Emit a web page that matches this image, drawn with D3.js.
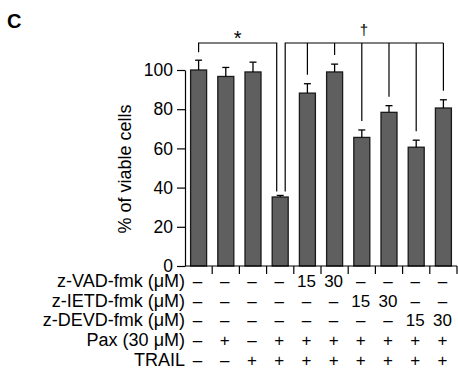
<!DOCTYPE html>
<html>
<head>
<meta charset="utf-8">
<script src="https://cdn.jsdelivr.net/npm/d3@7"></script>
<style>
  body { margin: 0; background: #fff; }
  svg { font-family: "Liberation Sans", Arial, sans-serif; }
  .axis path, .axis line { stroke: #000; stroke-width: 1.2; }
  .axis text { font-size: 17.5px; fill: #000; }
  .bar { fill: #5f5f5f; stroke: #1a1a1a; stroke-width: 1.3; }
  .err { stroke: #000; stroke-width: 1.3; fill: none; }
  .bracket { stroke: #000; stroke-width: 1.2; fill: none; }
  .row-label { font-size: 18px; fill: #000; }
  .row-val { font-size: 17px; fill: #000; }
</style>
</head>
<body>
<div id="chart"></div>
<script>
// --- data ---
const groups = ['g1', 'g2', 'g3', 'g4', 'g5', 'g6', 'g7', 'g8', 'g9', 'g10'];
const viable = [100, 96.7, 99, 35.2, 88.2, 99, 65.6, 78.4, 60.6, 80.6];
const sem = [5, 4.6, 5, 0.8, 4.8, 4, 3.8, 3.4, 3.6, 4.2];
const yTicks = [0, 20, 40, 60, 80, 100];

const rowLabels = ['z-VAD-fmk (\u03bcM)', 'z-IETD-fmk (\u03bcM)', 'z-DEVD-fmk (\u03bcM)', 'Pax (30 \u03bcM)', 'TRAIL'];
const rowValues = [
  ['\u2013', '\u2013', '\u2013', '\u2013', '15', '30', '\u2013', '\u2013', '\u2013', '\u2013'],
  ['\u2013', '\u2013', '\u2013', '\u2013', '\u2013', '\u2013', '15', '30', '\u2013', '\u2013'],
  ['\u2013', '\u2013', '\u2013', '\u2013', '\u2013', '\u2013', '\u2013', '\u2013', '15', '30'],
  ['\u2013', '+', '\u2013', '+', '+', '+', '+', '+', '+', '+'],
  ['\u2013', '\u2013', '+', '+', '+', '+', '+', '+', '+', '+']
];

// significance brackets: reference group index + compared groups
const starBracket = { ref: 0, others: [3], label: '*' };
const daggerBracket = { ref: 3, others: [4, 5, 6, 7, 8, 9], label: '\u2020' };

// --- sizing ---
const W = 458, H = 390;
const margin = { top: 70, left: 185, right: 1, bottom: 124 };
const plotW = W - margin.left - margin.right;
const plotH = H - margin.top - margin.bottom;

const x = d3.scaleBand().domain(groups).range([0, plotW]);
const barW = 16;
const cx = i => x(groups[i]) + x.bandwidth() / 2;
const y = d3.scaleLinear().domain([0, 100]).range([plotH, 0]);

const svg = d3.select('#chart').append('svg')
  .attr('width', W)
  .attr('height', H);

svg.append('text')
  .attr('x', 7)
  .attr('y', 28)
  .attr('font-size', 20)
  .attr('font-weight', 'bold')
  .text('C');

const g = svg.append('g')
  .attr('transform', `translate(${margin.left},${margin.top})`);

// bars
g.selectAll('.bar')
  .data(viable)
  .enter().append('rect')
  .attr('class', 'bar')
  .attr('x', (d, i) => cx(i) - barW / 2)
  .attr('width', barW)
  .attr('y', d => y(d))
  .attr('height', d => plotH - y(d));

// error bars (upper only)
const errG = g.selectAll('.errg')
  .data(viable)
  .enter().append('g');
errG.append('line')
  .attr('class', 'err')
  .attr('x1', (d, i) => cx(i)).attr('x2', (d, i) => cx(i))
  .attr('y1', d => y(d))
  .attr('y2', (d, i) => y(d + sem[i]));
errG.append('line')
  .attr('class', 'err')
  .attr('x1', (d, i) => cx(i) - 3.5).attr('x2', (d, i) => cx(i) + 3.5)
  .attr('y1', (d, i) => y(d + sem[i]))
  .attr('y2', (d, i) => y(d + sem[i]));

// axes
g.append('g')
  .attr('class', 'axis')
  .call(d3.axisLeft(y).tickValues(yTicks).tickSize(8).tickPadding(4).tickSizeOuter(0));

const xAxis = g.append('g')
  .attr('class', 'axis')
  .attr('transform', `translate(0,${plotH})`);
xAxis.append('line')
  .attr('x1', 0).attr('x2', plotW).attr('y1', 0).attr('y2', 0);
xAxis.selectAll('.xt')
  .data(groups)
  .enter().append('line')
  .attr('x1', d => x(d) + x.bandwidth())
  .attr('x2', d => x(d) + x.bandwidth())
  .attr('y1', 0).attr('y2', 8);

// brackets
const brY = 43 - margin.top;
function topOf(i) { return y(viable[i] + sem[i]); }

// star bracket
const sL = cx(starBracket.ref), sR = cx(starBracket.others[0]) - 3.5;
g.append('path')
  .attr('class', 'bracket')
  .attr('d', `M${sL},${topOf(starBracket.ref) - 8}V${brY}H${sR}V${topOf(starBracket.others[0]) - 4}`);
g.append('text')
  .attr('x', (sL + sR) / 2)
  .attr('y', brY + 2)
  .attr('text-anchor', 'middle')
  .attr('font-size', 20)
  .text(starBracket.label);

// dagger bracket
const dL = cx(daggerBracket.ref) + 5;
const dR = cx(daggerBracket.others[daggerBracket.others.length - 1]);
g.append('path')
  .attr('class', 'bracket')
  .attr('d', `M${dL},${topOf(daggerBracket.ref) - 4}V${brY}H${dR}`);
g.selectAll('.dline')
  .data(daggerBracket.others)
  .enter().append('line')
  .attr('class', 'bracket')
  .attr('x1', d => cx(d)).attr('x2', d => cx(d))
  .attr('y1', brY)
  .attr('y2', d => topOf(d) - 9);
g.append('text')
  .attr('x', cx(6) + 2)
  .attr('y', brY - 8)
  .attr('text-anchor', 'middle')
  .attr('font-size', 15)
  .text(daggerBracket.label);

// y label
g.append('text')
  .attr('transform', `translate(${125 - margin.left},${169 - margin.top}) rotate(-90)`)
  .attr('text-anchor', 'middle')
  .attr('dominant-baseline', 'central')
  .attr('font-size', 18)
  .text('% of viable cells');

// treatment table
const rowY0 = 287 - margin.top, rowStep = 19.7;
g.selectAll('.row-label')
  .data(rowLabels)
  .enter().append('text')
  .attr('class', 'row-label')
  .attr('x', 0)
  .attr('y', (d, i) => rowY0 + i * rowStep)
  .attr('text-anchor', 'end')
  .text(d => d);

rowValues.forEach((vals, r) => {
  g.selectAll('.rv' + r)
    .data(vals)
    .enter().append('text')
    .attr('class', 'row-val')
    .attr('x', (d, i) => cx(i) - 1)
    .attr('y', rowY0 + r * rowStep)
    .attr('text-anchor', 'middle')
    .text(d => d);
});
</script>
</body>
</html>
